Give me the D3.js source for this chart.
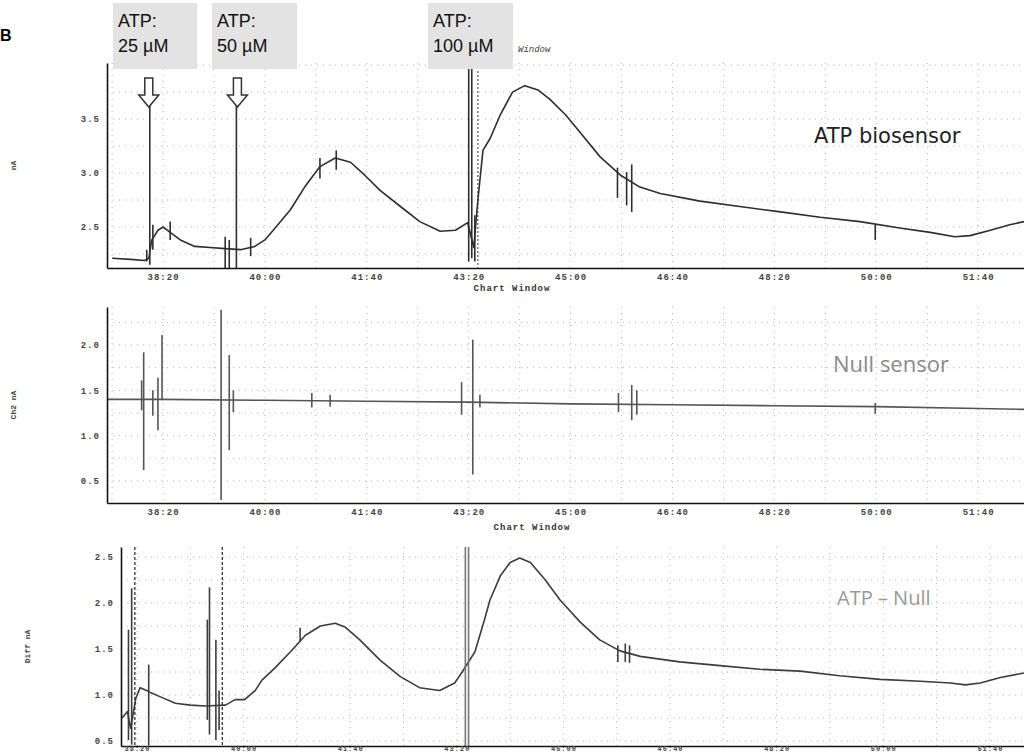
<!DOCTYPE html>
<html>
<head>
<meta charset="utf-8">
<script src="https://cdn.jsdelivr.net/npm/d3@7"></script>
<style>
  body { margin: 0; background: #fff; }
  svg { display: block; }
  .tick text { font-family: 'Liberation Mono', monospace; font-weight: bold; font-size: 9px; fill: #444; letter-spacing: 1px; }
  .grid line { stroke: #b5b5b5; stroke-dasharray: 1,5; }
</style>
</head>
<body>
<div id="chart"></div>
<script>
var width = 1024,
  height = 754;

// time axis labels (mm:ss), shared by all three panels
var timeTicks = ['38:20', '40:00', '41:40', '43:20', '45:00', '46:40', '48:20', '50:00', '51:40'];
var bioTicks = [2.5, 3.0, 3.5];
var nullTicks = [0.5, 1.0, 1.5, 2.0];
var diffTicks = [0.5, 1.0, 1.5, 2.0, 2.5];

// ATP biosensor trace (seconds, nA)
var bioTime = [2250, 2268, 2282, 2286, 2289, 2295, 2300, 2307, 2317, 2331, 2346, 2361, 2376, 2390, 2400,
  2410, 2425, 2439, 2454, 2469, 2484, 2498, 2513, 2533, 2552, 2572, 2587, 2599, 2605, 2609, 2614, 2621,
  2631, 2643, 2655, 2668, 2680, 2695, 2709, 2729, 2749, 2768, 2788, 2827, 2866, 2906, 2945, 2984, 3023,
  3053, 3077, 3092, 3112, 3131, 3145];
var bioValue = [2.21, 2.20, 2.19, 2.21, 2.38, 2.47, 2.50, 2.45, 2.38, 2.32, 2.31, 2.30, 2.29, 2.32, 2.38,
  2.49, 2.66, 2.87, 3.06, 3.14, 3.10, 2.98, 2.84, 2.69, 2.55, 2.46, 2.47, 2.54, 2.31, 2.75, 3.21, 3.32,
  3.54, 3.75, 3.81, 3.77, 3.68, 3.54, 3.38, 3.15, 2.98, 2.87, 2.81, 2.74, 2.69, 2.64, 2.59, 2.55, 2.49,
  2.45, 2.41, 2.42, 2.47, 2.52, 2.55];
// spikes: [time, low, high]
var bioSpikes = [[2284, 2.18, 2.29], [2287, 2.15, 3.66], [2290, 2.29, 2.52], [2307, 2.38, 2.55],
  [2361, 2.12, 2.41], [2365, 2.12, 2.38], [2372, 2.12, 3.75], [2386, 2.23, 2.40], [2454, 2.95, 3.14],
  [2470, 3.03, 3.21], [2600, 2.18, 4.19], [2603, 2.21, 4.16], [2606, 2.18, 2.61], [2746, 2.77, 3.05],
  [2755, 2.70, 3.01], [2760, 2.64, 3.08], [2999, 2.38, 2.52]];

// null sensor trace
var nullTime = [2245, 2300, 2400, 2500, 2600, 2700, 2800, 2900, 3000, 3100, 3145];
var nullValue = [1.40, 1.40, 1.39, 1.38, 1.37, 1.35, 1.34, 1.33, 1.32, 1.30, 1.29];
var nullSpikes = [[2279, 1.28, 1.61], [2281, 0.62, 1.92], [2290, 1.22, 1.50], [2295, 1.06, 1.64],
  [2299, 1.39, 2.11], [2357, 0.29, 2.39], [2365, 0.84, 1.89], [2369, 1.26, 1.50], [2446, 1.31, 1.47],
  [2464, 1.32, 1.45], [2593, 1.23, 1.59], [2604, 0.57, 2.06], [2611, 1.31, 1.45], [2747, 1.26, 1.47],
  [2760, 1.17, 1.56], [2765, 1.23, 1.50], [2999, 1.24, 1.36]];

// ATP - Null trace
var diffTime = [2286, 2291, 2294, 2299, 2303, 2309, 2312, 2322, 2336, 2350, 2364, 2383, 2392, 2401, 2411,
  2417, 2429, 2444, 2458, 2472, 2486, 2495, 2509, 2528, 2547, 2565, 2584, 2598, 2605, 2617, 2626, 2631,
  2641, 2650, 2659, 2669, 2683, 2697, 2716, 2734, 2753, 2772, 2809, 2847, 2884, 2922, 2959, 2997, 3035,
  3063, 3077, 3091, 3110, 3132];
var diffValue = [0.75, 0.82, 0.64, 0.97, 1.08, 1.05, 1.03, 0.98, 0.91, 0.89, 0.88, 0.89, 0.95, 0.95, 1.05,
  1.16, 1.29, 1.47, 1.65, 1.75, 1.78, 1.74, 1.60, 1.38, 1.20, 1.08, 1.05, 1.13, 1.25, 1.47, 1.82, 2.03,
  2.30, 2.44, 2.49, 2.44, 2.25, 2.03, 1.79, 1.60, 1.48, 1.42, 1.36, 1.32, 1.28, 1.26, 1.21, 1.17, 1.15,
  1.13, 1.11, 1.13, 1.19, 1.24];
var diffSpikes = [[2292, 0.51, 1.71], [2295, 0.46, 2.16], [2311, 0.45, 1.33], [2366, 0.73, 1.82],
  [2368, 0.57, 2.17], [2374, 0.51, 1.60], [2377, 0.62, 1.05], [2453, 1.58, 1.73], [2751, 1.36, 1.54],
  [2758, 1.36, 1.56], [2762, 1.35, 1.54]];
var diffMarkers = [2298, 2380]; // dashed lines in bottom panel
var diffBars = [2608, 2611];    // thick grey lines

// ATP additions (top panel)
var additionTime = [2286, 2373, 2609];
var additionLabel = ['25 µM', '50 µM', '100 µM'];

function toSec(s) {
  var p = s.split(':');
  return +p[0] * 60 + +p[1];
}
var tickSec = timeTicks.map(toSec);

var svg = d3.select('#chart').append('svg').attr('width', width).attr('height', height);

var panels = [
  { time: bioTime, value: bioValue, spikes: bioSpikes, ticks: bioTicks,
    xd: [2245, 3145], xr: [107, 1024], yd: [2.12, 4.02], yr: [268, 63],
    color: '#2e2e2e', title: 'nA', titleX: 16, windowY: 291, windowX: 512, pad: 6, fs: 9 },
  { time: nullTime, value: nullValue, spikes: nullSpikes, ticks: nullTicks,
    xd: [2245, 3145], xr: [107, 1024], yd: [0.256, 2.42], yr: [503, 307],
    color: '#555', title: 'Ch2 nA', titleX: 16, windowY: 530, windowX: 532, pad: 6, fs: 9 },
  { time: diffTime, value: diffValue, spikes: diffSpikes, ticks: diffTicks,
    xd: [2285, 3132], xr: [121, 1024], yd: [0.446, 2.609], yr: [746, 547],
    color: '#3c3c3c', title: 'Diff nA', titleX: 30, pad: 0, fs: 7 }
];

panels.forEach(function (p, k) {
  var x = d3.scaleLinear().domain(p.xd).range(p.xr);
  var y = d3.scaleLinear().domain(p.yd).range(p.yr);
  var g = svg.append('g');

  // dotted grid every 50 s and 0.25 nA
  var gx = d3.range(2250, 3150, 50).filter(function (t) { return x(t) > p.xr[0] + 2; });
  var gy = d3.range(0.25, 4.01, 0.25).filter(function (v) { return v > p.yd[0] && v < p.yd[1]; });
  var grid = g.append('g').attr('class', 'grid');
  grid.selectAll('.gv').data(gx).enter().append('line')
    .attr('x1', x).attr('x2', x).attr('y1', p.yr[1]).attr('y2', p.yr[0]);
  grid.selectAll('.gh').data(gy).enter().append('line')
    .attr('x1', p.xr[0]).attr('x2', p.xr[1]).attr('y1', y).attr('y2', y);

  // trace
  var line = d3.line()
    .x(function (d, i) { return x(p.time[i]); })
    .y(function (d) { return y(d); });
  g.append('path').datum(p.value)
    .attr('d', line)
    .attr('fill', 'none')
    .attr('stroke', p.color)
    .attr('stroke-width', 1.6)
    .attr('stroke-linejoin', 'round');

  // recording artefacts
  g.selectAll('.spike').data(p.spikes).enter().append('line')
    .attr('x1', function (d) { return x(d[0]); })
    .attr('x2', function (d) { return x(d[0]); })
    .attr('y1', function (d) { return y(d[1]); })
    .attr('y2', function (d) { return y(d[2]); })
    .attr('stroke', p.color)
    .attr('stroke-width', 1.6);

  if (k === 0) {
    g.append('line')
      .attr('x1', x(additionTime[2])).attr('x2', x(additionTime[2]))
      .attr('y1', p.yr[1]).attr('y2', p.yr[0])
      .attr('stroke', '#333').attr('stroke-dasharray', '2,2');
  }
  if (k === 2) {
    g.selectAll('.mk').data(diffMarkers).enter().append('line')
      .attr('x1', x).attr('x2', x).attr('y1', p.yr[1]).attr('y2', p.yr[0])
      .attr('stroke', '#222').attr('stroke-width', 1.2).attr('stroke-dasharray', '3,2');
    g.selectAll('.bar').data(diffBars).enter().append('line')
      .attr('x1', x).attr('x2', x).attr('y1', p.yr[1]).attr('y2', p.yr[0])
      .attr('stroke', '#777').attr('stroke-width', 1.6);
  }

  // axes
  var xAxis = d3.axisBottom(x).tickValues(tickSec).tickSize(0).tickPadding(p.pad)
    .tickFormat(function (d) { return timeTicks[tickSec.indexOf(d)]; });
  var yAxis = d3.axisLeft(y).tickValues(p.ticks).tickSize(0).tickPadding(7)
    .tickFormat(d3.format('.1f'));

  var xg = g.append('g').attr('transform', 'translate(0,' + p.yr[0] + ')').call(xAxis);
  xg.select('.domain').attr('stroke', '#111').attr('stroke-width', 1.6);
  xg.selectAll('.tick text').style('font-size', p.fs + 'px');
  g.append('g').attr('transform', 'translate(' + p.xr[0] + ',0)').call(yAxis)
    .select('.domain').attr('stroke', '#111').attr('stroke-width', 1.6);

  g.append('text')
    .attr('transform', 'translate(' + p.titleX + ',' + (p.yr[0] + p.yr[1]) / 2 + ') rotate(-90)')
    .attr('text-anchor', 'middle')
    .style('font-family', 'Liberation Mono, monospace')
    .style('font-weight', 'bold')
    .style('font-size', '8px')
    .style('fill', '#444')
    .text(p.title);

  if (p.windowY) {
    g.append('text')
      .attr('x', p.windowX).attr('y', p.windowY)
      .attr('text-anchor', 'middle')
      .style('font-family', 'Liberation Mono, monospace')
      .style('font-weight', 'bold')
      .style('font-size', '9px')
      .style('letter-spacing', '1px')
      .style('fill', '#333')
      .text('Chart Window');
  }

  if (k === 0) p.x = x;
});

// addition boxes and arrows
var x1 = panels[0].x;
var boxLeft = [113, 212, 428];
var boxW = [84, 85, 85];
additionTime.forEach(function (t, i) {
  svg.append('rect')
    .attr('x', boxLeft[i]).attr('y', 3)
    .attr('width', boxW[i]).attr('height', 66)
    .attr('fill', '#e3e3e3');
  svg.append('text')
    .attr('x', boxLeft[i] + 5).attr('y', 27)
    .style('font-family', 'Liberation Sans, Arial, sans-serif')
    .style('font-size', '18px')
    .style('fill', '#111')
    .text('ATP:');
  svg.append('text')
    .attr('x', boxLeft[i] + 5).attr('y', 52)
    .style('font-family', 'Liberation Sans, Arial, sans-serif')
    .style('font-size', '18px')
    .style('fill', '#111')
    .text(additionLabel[i]);
  if (i < 2) {
    var cx = x1(t);
    svg.append('path')
      .attr('d', 'M' + (cx - 4) + ',78 L' + (cx + 4) + ',78 L' + (cx + 4) + ',95 L' + (cx + 10) + ',95 L' +
        cx + ',107 L' + (cx - 10) + ',95 L' + (cx - 4) + ',95 Z')
      .attr('fill', '#fff')
      .attr('stroke', '#333')
      .attr('stroke-width', 1.5);
  }
});

svg.append('text')
  .attr('x', 518).attr('y', 52)
  .style('font-family', 'Liberation Mono, monospace')
  .style('font-style', 'italic')
  .style('font-size', '9px')
  .style('fill', '#444')
  .text('Window');

svg.append('text')
  .attr('x', 0).attr('y', 41)
  .style('font-family', 'Liberation Sans, Arial, sans-serif')
  .style('font-weight', 'bold')
  .style('font-size', '16px')
  .text('B');

// panel names
svg.append('text').attr('x', 814).attr('y', 143)
  .style('font-family', 'DejaVu Sans, sans-serif').style('font-size', '21px').style('fill', '#222')
  .text('ATP biosensor');
svg.append('text').attr('x', 833).attr('y', 372)
  .style('font-family', 'Open Sans, sans-serif').style('font-size', '22px').style('fill', '#8a8a8a')
  .text('Null sensor');
svg.append('text').attr('x', 837).attr('y', 605)
  .style('font-family', 'Open Sans, sans-serif').style('font-size', '20px').style('fill', '#999')
  .text('ATP – Null');
</script>
</body>
</html>
